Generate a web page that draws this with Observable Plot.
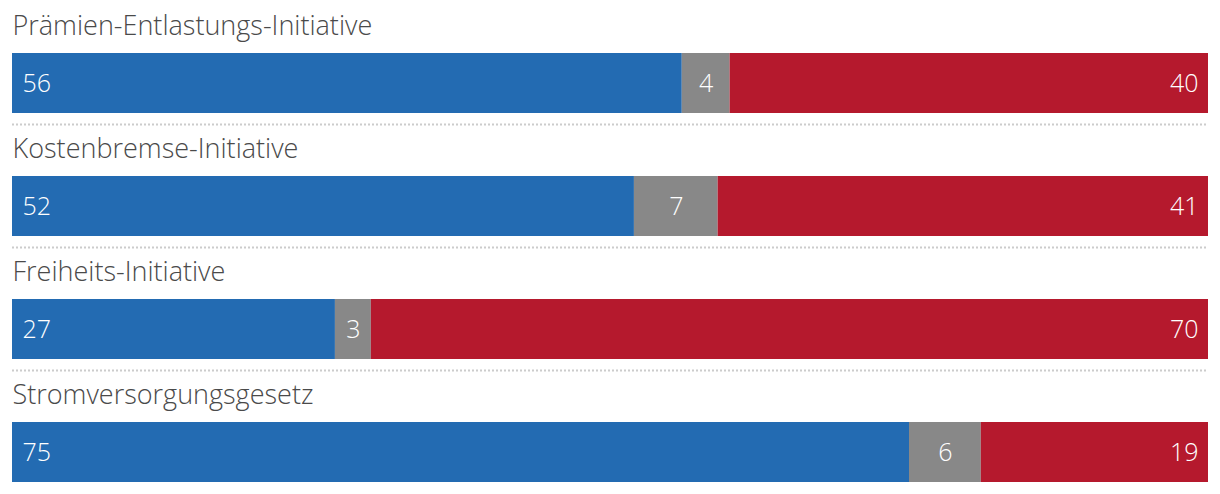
<!DOCTYPE html>
<html>
<head>
<meta charset="utf-8">
<script src="https://cdn.jsdelivr.net/npm/d3@7"></script>
<script src="https://cdn.jsdelivr.net/npm/@observablehq/plot@0.6"></script>
<style>
  html, body { margin: 0; padding: 0; background: #fff; }
  svg { display: block; }
</style>
</head>
<body>
<div id="chart"></div>
<script>
const categories = ["Prämien-Entlastungs-Initiative", "Kostenbremse-Initiative", "Freiheits-Initiative", "Stromversorgungsgesetz"];
const responses = ["Ja", "Weiss nicht", "Nein"];
const yes = [56, 52, 27, 75];
const undecided = [4, 7, 3, 6];
const no = [40, 41, 70, 19];
const colors = ["#236bb2", "#888888", "#b5192d"];

const data = [];
categories.forEach((c, i) => {
  data.push({cat: c, resp: "Ja", value: yes[i]});
  data.push({cat: c, resp: "Weiss nicht", value: undecided[i]});
  data.push({cat: c, resp: "Nein", value: no[i]});
});
const seps = categories.slice(0, -1);

const font = "'Open Sans', 'Noto Sans', sans-serif";
const chart = Plot.plot({
  width: 1220,
  height: 494,
  marginLeft: 12,
  marginRight: 12,
  marginTop: 52,
  marginBottom: 12,
  style: {fontFamily: font, background: "#fff"},
  x: {domain: [0, 100], axis: null},
  y: {domain: categories, axis: null, paddingInner: 0.5135, paddingOuter: 0},
  color: {domain: responses, range: colors},
  marks: [
    Plot.ruleY(seps, {y: d => d, x1: 0, x2: 100, dy: 41, stroke: "#cccccc", strokeWidth: 2, strokeDasharray: "2,2"}),
    Plot.barX(data, Plot.stackX({x: "value", y: "cat", fill: "resp", order: responses})),
    Plot.text(data, Plot.stackX({x: "value", y: "cat", z: "resp", order: responses,
      text: d => d.resp === "Weiss nicht" ? String(d.value) : null,
      fill: "white", fontSize: 25, fontWeight: 300})),
    Plot.text(data.filter(d => d.resp === "Ja"), {x: () => 0, y: "cat", text: d => String(d.value),
      textAnchor: "start", dx: 10, fill: "white", fontSize: 25, fontWeight: 300}),
    Plot.text(data.filter(d => d.resp === "Nein"), {x: () => 100, y: "cat", text: d => String(d.value),
      textAnchor: "end", dx: -10, fill: "white", fontSize: 25, fontWeight: 300}),
    Plot.text(categories, {x: () => 0, y: d => d, text: d => d, textAnchor: "start", dy: -57,
      fill: "#4a4a4a", fontSize: 27, fontWeight: 300})
  ]
});
document.getElementById("chart").appendChild(chart);
</script>
</body>
</html>
